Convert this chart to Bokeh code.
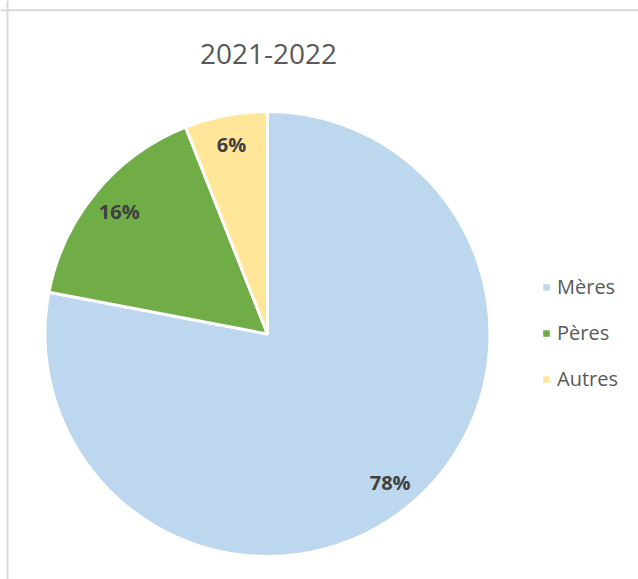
import numpy as np
from bokeh.plotting import figure
from bokeh.models import ColumnDataSource, Range1d, Span, Label, Legend, LegendItem
from bokeh.embed import file_html
from bokeh.resources import INLINE
from bokeh.core.properties import value

categories = ["Mères", "Pères", "Autres"]
shares = [78, 16, 6]
colors = ["#BDD7EE", "#70AD47", "#FFE699"]
title_text = "2021-2022"

W, H = 638, 579
p = figure(width=W, height=H, x_range=Range1d(0, W), y_range=Range1d(0, H),
           output_backend="svg", toolbar_location=None, min_border=0)
p.axis.visible = False
p.grid.visible = False
p.outline_line_color = None
p.background_fill_color = "white"
p.border_fill_color = "white"

# chart-area border (left and top edges visible)
p.add_layout(Span(location=7, dimension="height", line_color="#D9D9D9", line_width=2))
p.add_layout(Span(location=569.3, dimension="width", line_color="#D9D9D9", line_width=2))

cx, cy, r = 267, 245.5, 222.5
frac = np.array(shares, dtype=float) / sum(shares)
cum = np.cumsum(frac)
beg = cum - frac
start_angle = np.pi / 2 - cum * 2 * np.pi
end_angle = np.pi / 2 - beg * 2 * np.pi
mid = (start_angle + end_angle) / 2
lab_r = 0.865 * r

src = ColumnDataSource(dict(
    cat=categories, share=shares, color=colors,
    start=start_angle, end=end_angle,
    lx=cx + lab_r * np.cos(mid), ly=cy + lab_r * np.sin(mid),
    txt=[f"{s}%" for s in shares],
))

w = p.wedge(x=cx, y=cy, radius=r, start_angle="start", end_angle="end",
            direction="anticlock", fill_color="color", line_color="white",
            line_width=3, source=src)

p.text(x="lx", y="ly", text="txt", source=src, text_align="center",
       text_baseline="middle", text_font=value("Open Sans"),
       text_font_style="bold", text_font_size="20px", text_color="#404040")

p.add_layout(Label(x=268, y=526, text=title_text, text_align="center",
                   text_baseline="middle", text_font="Open Sans",
                   text_font_size="28px", text_color="#595959"))

legend = Legend(items=[LegendItem(label=c, renderers=[w], index=i)
                       for i, c in enumerate(categories)],
                location=(540, 187), orientation="vertical",
                border_line_color=None, background_fill_alpha=0,
                padding=0, margin=0, spacing=19,
                glyph_width=12, glyph_height=12, label_standoff=5,
                label_text_font="Open Sans", label_text_font_size="20px",
                label_text_color="#595959")
p.add_layout(legend)

open("out.html", "w").write(file_html(p, INLINE))
